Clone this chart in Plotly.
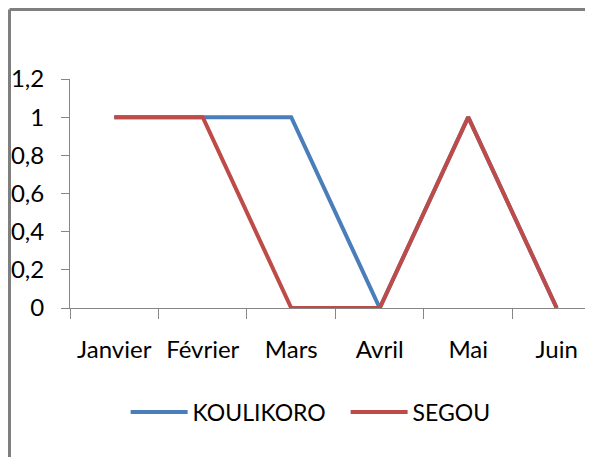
import plotly.graph_objects as go

months = ["Janvier", "Février", "Mars", "Avril", "Mai", "Juin"]
koulikoro = [1, 1, 1, 0, 1, 0]
segou = [1, 1, 0, 0, 1, 0]

FONT = "Lato"
AXIS_GREY = "#868686"

# page has an 8px body margin, so the figure is 8px smaller than the window
W, H = 585, 449
L, T, B = 62, 71, 149
PW, PH = W - L, H - T - B

fig = go.Figure()
fig.add_trace(go.Scatter(x=months, y=koulikoro, name="KOULIKORO", mode="lines",
                         line=dict(color="#4A7EBB", width=4)))
fig.add_trace(go.Scatter(x=months, y=segou, name="SEGOU", mode="lines",
                         line=dict(color="#BE4B48", width=4)))

fig.update_layout(
    width=W, height=H,
    margin=dict(l=L, r=0, t=T, b=B, autoexpand=False),
    paper_bgcolor="white", plot_bgcolor="white",
    separators=", ",
    font=dict(family=FONT, size=24, color="#000000"),
    showlegend=True,
    legend=dict(orientation="h", x=0.527, xanchor="center", y=-0.454, yanchor="middle",
                font=dict(size=23), itemwidth=57, entrywidth=148),
)
fig.update_xaxes(
    type="category", range=[-0.5, 5.41], tickson="boundaries",
    showline=True, linecolor=AXIS_GREY, linewidth=1,
    ticks="outside", ticklen=10, tickcolor=AXIS_GREY,
    showgrid=False, zeroline=False, ticklabelstandoff=20, automargin=False,
)
fig.update_yaxes(
    range=[0, 1.2], dtick=0.2, tick0=0,
    showline=True, linecolor=AXIS_GREY, linewidth=1,
    ticks="outside", ticklen=8, tickcolor=AXIS_GREY,
    showgrid=False, zeroline=False, ticklabelstandoff=12, automargin=False,
)

# outer chart frame (top and left edges visible in the crop)
fx = (1.5 - L) / PW
fy = 1 + (T - 1.5) / PH
fig.add_shape(type="line", xref="paper", yref="paper",
              x0=fx, x1=1.0, y0=fy, y1=fy,
              line=dict(color="#7f7f7f", width=3))
fig.add_shape(type="line", xref="paper", yref="paper",
              x0=fx, x1=fx, y0=fy, y1=-0.7,
              line=dict(color="#7f7f7f", width=3))

fig.write_html("out.html", config={"displayModeBar": False})
